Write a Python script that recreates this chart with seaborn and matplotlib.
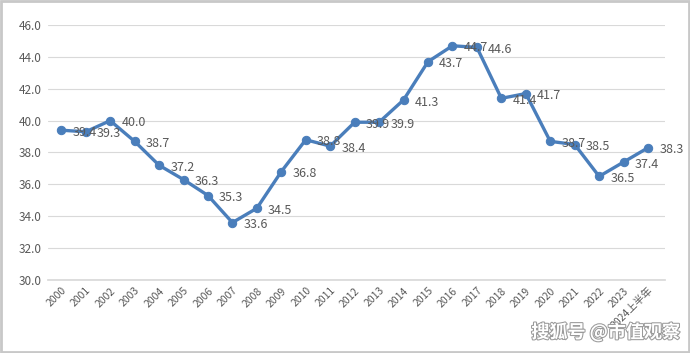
import matplotlib
matplotlib.use("Agg")
import matplotlib.pyplot as plt
import matplotlib.patheffects as pe
import seaborn as sns
import pandas as pd
from matplotlib.patches import Rectangle

years = ["2000", "2001", "2002", "2003", "2004", "2005", "2006", "2007", "2008",
         "2009", "2010", "2011", "2012", "2013", "2014", "2015", "2016", "2017",
         "2018", "2019", "2020", "2021", "2022", "2023", "2024上半年"]
values = [39.4, 39.3, 40.0, 38.7, 37.2, 36.3, 35.3, 33.6, 34.5, 36.8, 38.8, 38.4,
          39.9, 39.9, 41.3, 43.7, 44.7, 44.6, 41.4, 41.7, 38.7, 38.5, 36.5, 37.4, 38.3]

sns.set_theme(style="white")
plt.rcParams['font.family'] = ['Noto Sans CJK SC', 'DejaVu Sans']

df = pd.DataFrame({"idx": range(len(years)), "val": values})

fig = plt.figure(figsize=(6.9, 3.53), dpi=100)
ax = fig.add_axes([0.07, 0.207, 0.894, 0.722])

line_c = "#4a7ebb"
txt_c = "#595959"
sns.lineplot(data=df, x="idx", y="val", ax=ax, color=line_c, linewidth=2.4,
             marker="o", markersize=6, markeredgecolor=line_c)

# labels sit to the right of each point, like Excel's "right" position
for i, v in zip(df["idx"], df["val"]):
    ax.annotate(f"{v:.1f}", (i, v), xytext=(8, -1.5), textcoords="offset points",
                fontsize=9, color=txt_c, va="center", ha="left")

ax.set_ylim(30, 46)
ax.set_yticks(range(30, 47, 2))
ax.set_yticklabels([f"{t:.1f}" for t in range(30, 47, 2)], fontsize=8.5, color=txt_c)
ax.set_xlim(-0.53, len(years) - 0.3)
ax.set_xticks(range(len(years)))
ax.set_xticklabels(years, rotation=45, ha="right", rotation_mode="anchor",
                   fontsize=7.5, color=txt_c)
ax.tick_params(axis="y", length=0, pad=5)
ax.tick_params(axis="x", length=0, pad=4)
ax.grid(axis="y", color="#d9d9d9", linewidth=0.8)
ax.set_axisbelow(True)
for s in ["top", "right", "left"]:
    ax.spines[s].set_visible(False)
ax.spines["bottom"].set_color("#d9d9d9")
ax.set_xlabel("")
ax.set_ylabel("")

fig.patches.append(Rectangle((0.002, 0.003), 0.996, 0.994, transform=fig.transFigure,
                             fill=False, edgecolor="#c8c8c8", linewidth=2))
fig.text(0.985, 0.058, "搜狐号 @市值观察", ha="right", va="center", fontsize=13,
         color="#ffffff", fontweight="bold",
         path_effects=[pe.withStroke(linewidth=1.5, foreground="#9a9a9a")])

fig.savefig("out.png", dpi=100)
